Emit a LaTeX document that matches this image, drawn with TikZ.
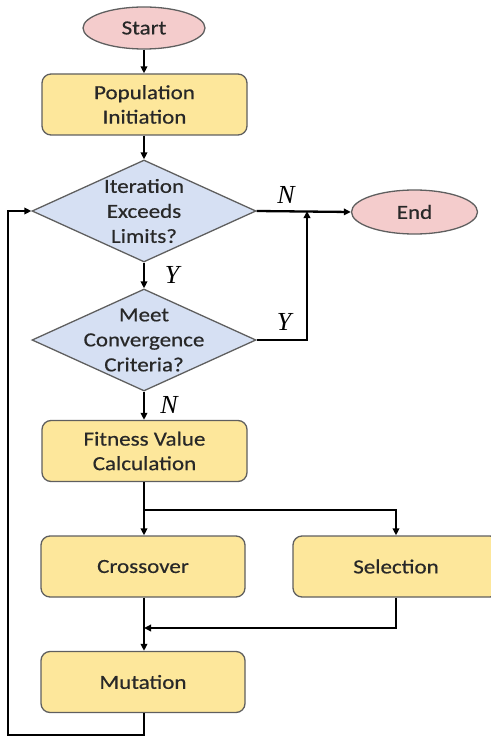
\documentclass[tikz,border=0pt]{standalone}
\usepackage{fontspec}
\setmainfont{Carlito}[FakeStretch=1.15,FakeBold=0.5]
\newfontfamily\lblfont{Liberation Serif}
\usetikzlibrary{shapes.geometric,arrows.meta}
\definecolor{pinkfill}{RGB}{244,204,204}
\definecolor{yellowfill}{RGB}{253,231,155}
\definecolor{bluefill}{RGB}{214,224,243}
\definecolor{bordergray}{RGB}{95,95,95}
\definecolor{txt}{RGB}{40,40,40}
\begin{document}
\begin{tikzpicture}[x=1pt,y=-1pt,
  every node/.style={font=\fontsize{20}{24.5}\selectfont, text=txt},
  term/.style={ellipse, draw=bordergray, line width=1.3pt, fill=pinkfill, inner sep=0pt},
  proc/.style={rectangle, rounded corners=9pt, draw=bordergray, line width=1.3pt, fill=yellowfill, minimum width=205pt, minimum height=61pt, align=center, inner sep=0pt},
  decis/.style={diamond, draw=bordergray, line width=1.3pt, fill=bluefill, minimum width=224pt, minimum height=102pt, inner sep=0pt},
  arr/.style={line width=2.3pt, draw=black, -{Triangle[length=7pt,width=6.5pt]}},
  ln/.style={line width=2.3pt, draw=black},
  yn/.style={font=\lblfont\itshape\fontsize{26}{26}\selectfont, text=black, inner sep=0pt}
]
\useasboundingbox (0,0) rectangle (490,738);

\node[term, minimum width=122pt, minimum height=42pt] (start) at (144,28) {Start};
\node[proc] (pop) at (144.5,104.5) {Population\\Initiation};
\node[decis, label={[align=center, font=\fontsize{20}{25}\selectfont, text=txt]center:Iteration\\Exceeds\\Limits?}] (d1) at (144,211) {};
\node[term, minimum width=126pt, minimum height=44pt] (end) at (414.5,212) {End};
\node[decis, label={[align=center, font=\fontsize{20}{25}\selectfont, text=txt]center:Meet\\Convergence\\Criteria?}] (d2) at (144,340) {};
\node[proc] (fit) at (144.5,451) {Fitness Value\\Calculation};
\node[proc, minimum width=204pt] (cross) at (143,566.5) {Crossover};
\node[proc, minimum width=206pt] (sel) at (396,566.5) {Selection};
\node[proc, minimum width=204pt] (mut) at (143,682) {Mutation};

\coordinate (j) at (307,211);
\coordinate (b) at (144,510);
\coordinate (m) at (144,628);
\coordinate (lb) at (8,735);
\coordinate (lt) at (8,211);

\draw[arr] (start.south) -- (start.south |- pop.north);
\draw[arr] (pop.south -| d1.north) -- (d1.north);
\draw[arr] (d1.east) -- (end.west);
\draw[arr] (d1.south) -- (d2.north);
\draw[arr] (d2.east) -| (j);
\draw[arr] (d2.south) -- (d2.south |- fit.north);
\draw[ln] (fit.south -| b) -- (b);
\draw[arr] (b) -- (b |- cross.north);
\draw[arr] (b) -| (sel.north);
\draw[arr] (cross.south -| b) -- (b |- mut.north);
\draw[arr] (sel.south) |- (m);
\draw[arr] (mut.south -| b) |- (lb) -- (lt) -- (d1.west);

\node[yn] (n1) at (286,195) {N};
\node[yn] (y1) at (172,275) {Y};
\node[yn] (y2) at (284,322) {Y};
\node[yn] (n2) at (169,405) {N};
\end{tikzpicture}
\end{document}
